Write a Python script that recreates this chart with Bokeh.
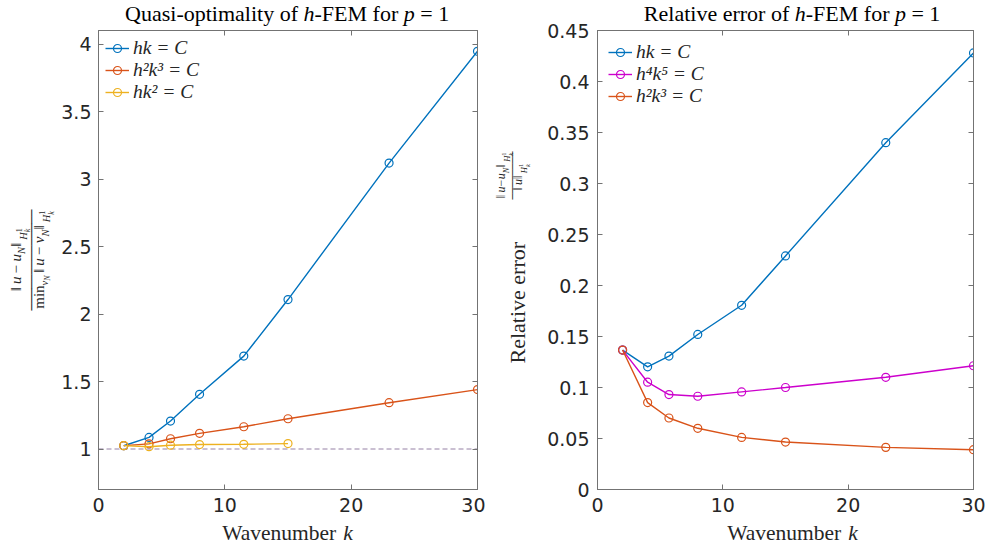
import math
from bokeh.plotting import figure
from bokeh.models import (Range1d, LinearAxis, FixedTicker, CustomJSTickFormatter,
                          Span, Legend, LegendItem, Label)
from bokeh.layouts import row, column
from bokeh.embed import file_html
from bokeh.resources import INLINE

# ---------------- data ----------------
k = [2, 4, 5.7, 8, 11.5, 15, 23, 30]
k_short = [2, 4, 5.7, 8, 11.5, 15]

quasi_hk = [1.024, 1.086, 1.207, 1.405, 1.688, 2.107, 3.118, 3.946]
quasi_h2k3 = [1.025, 1.038, 1.076, 1.116, 1.165, 1.224, 1.343, 1.440]
quasi_hk2 = [1.025, 1.017, 1.028, 1.033, 1.035, 1.040]

rel_hk = [0.1367, 0.1203, 0.1308, 0.1520, 0.1806, 0.2290, 0.3400, 0.4280]
rel_h4k5 = [0.1367, 0.1052, 0.0931, 0.0914, 0.0957, 0.1000, 0.1100, 0.1213]
rel_h2k3 = [0.1367, 0.0852, 0.0701, 0.0600, 0.0511, 0.0465, 0.0413, 0.0390]

x_ticks = [0, 10, 20, 30]
quasi_y_ticks = [1, 1.5, 2, 2.5, 3, 3.5, 4]
rel_y_ticks = [0, 0.05, 0.1, 0.15, 0.2, 0.25, 0.3, 0.35, 0.4, 0.45]

BLUE = "#0072BD"
RED = "#D95319"
YELLOW = "#EDB120"
MAGENTA = "#CC00CC"
AXIS_GRAY = "#737373"
TEXT = "#262626"
SERIF = "Liberation Serif"
BIG = 22
BASE_CORR = 0.34   # rendered baseline sits this many em below the anchor

# ---------------- approximate glyph widths (em/1000) ----------------
_lo = "abcdefghijklmnopqrstuvwxyz"
_up = "ABCDEFGHIJKLMNOPQRSTUVWXYZ"
ROMAN = dict(zip(_lo, [444, 500, 444, 500, 444, 333, 500, 500, 278, 278, 500, 278, 778,
                       500, 500, 500, 500, 333, 389, 278, 500, 500, 722, 500, 500, 444]))
ROMAN.update(zip(_up, [722, 667, 667, 722, 611, 556, 722, 722, 333, 389, 722, 611, 889,
                       722, 722, 556, 722, 667, 556, 611, 722, 722, 944, 722, 722, 611]))
ITALIC = dict(zip(_lo, [500, 500, 444, 500, 444, 278, 500, 500, 278, 278, 444, 278, 722,
                        500, 500, 500, 500, 389, 389, 278, 500, 444, 667, 444, 444, 389]))
ITALIC.update(zip(_up, [611, 611, 667, 722, 611, 611, 722, 722, 333, 444, 667, 556, 833,
                        667, 722, 611, 722, 611, 500, 556, 722, 611, 833, 611, 556, 556]))
for tbl in (ROMAN, ITALIC):
    tbl.update({" ": 250, "-": 333, "=": 600, "\u2212": 600, "\u2016": 480})
    tbl.update({d: 500 for d in "0123456789"})


def text_width(t, size, style):
    tbl = ITALIC if "italic" in style else ROMAN
    return sum(tbl.get(ch, 500) for ch in t) / 1000.0 * size


def rich(p, pieces, x, y, origin, angle=0.0, align="left", color=TEXT, font=SERIF):
    """pieces: (text, size, style, shift, advance); x, y = baseline start in picture
    pixels; origin = (left, bottom) of the strip's frame in picture pixels."""
    widths = [text_width(t, s, st) if adv else 0.0 for (t, s, st, sh, adv) in pieces]
    total = sum(widths)
    cur = {"left": 0.0, "center": -total / 2.0, "right": -total}[align]
    dx, dy = math.cos(angle), math.sin(angle)
    nx, ny = math.sin(angle), -math.cos(angle)
    sx0, sy0 = x - origin[0], origin[1] - y
    for (t, s, st, sh, adv), w in zip(pieces, widths):
        body = t.lstrip(" ")
        lead = text_width(t[:len(t) - len(body)], s, st)
        if body.strip():
            pos = cur + lead
            off = sh - BASE_CORR * s
            p.add_layout(Label(x=sx0 + dx * pos + nx * off, y=sy0 + dy * pos + ny * off,
                               x_units="screen", y_units="screen", text=body,
                               angle=angle, text_font=font, text_font_size=f"{s}px",
                               text_font_style=st, text_color=color, text_align="left",
                               text_baseline="alphabetic"))
        cur += w
    return total


def bar(p, x, y, length, origin, size=12):
    n = max(1, round(length / (0.602 * size)))
    p.add_layout(Label(x=x - origin[0], y=origin[1] - y, x_units="screen",
                       y_units="screen", text="\u2500" * n, angle=math.pi / 2,
                       text_font="DejaVu Sans Mono", text_font_size=f"{size}px",
                       text_color=TEXT, text_align="center", text_baseline="middle"))


def strip(width, height, **borders):
    opts = dict(min_border=0)
    opts.update(borders)
    s = figure(width=width, height=height, x_range=Range1d(0, 1), y_range=Range1d(0, 1),
               output_backend="svg", toolbar_location=None,
               x_axis_location=None, y_axis_location=None, **opts)
    s.outline_line_color = None
    s.grid.visible = False
    return s


def style_axis(ax, ticks, labels=True, standoff=7):
    ax.ticker = FixedTicker(ticks=ticks)
    ax.formatter = CustomJSTickFormatter(code="return String(Number(tick.toFixed(4)));")
    ax.major_tick_in = 5
    ax.major_tick_out = 0
    ax.minor_tick_line_color = None
    ax.axis_line_color = AXIS_GRAY
    ax.major_tick_line_color = AXIS_GRAY
    if labels:
        ax.major_label_text_font = "DejaVu Sans"
        ax.major_label_text_font_size = "19px"
        ax.major_label_text_color = TEXT
        ax.major_label_standoff = standoff
    else:
        ax.major_label_text_font_size = "0px"
        ax.major_label_text_alpha = 0
        ax.major_label_standoff = 0


MAIN_H = 494
FRAME_TOP, FRAME_BOTTOM = 30, 489
TITLE_H = 26
XL_H = 550 - TITLE_H - MAIN_H      # 30


def make_fig(width, border_left, border_right, yr, yticks, ylabels=True):
    p = figure(width=width, height=MAIN_H, x_range=Range1d(0, 30), y_range=yr,
               output_backend="svg", toolbar_location=None,
               min_border_left=border_left, min_border_right=border_right,
               min_border_top=4, min_border_bottom=31)
    p.xgrid.grid_line_color = None
    p.ygrid.grid_line_color = None
    p.outline_line_color = AXIS_GRAY
    style_axis(p.xaxis[0], x_ticks, True, 8)
    style_axis(p.yaxis[0], yticks, ylabels, 7)
    top = LinearAxis()
    style_axis(top, x_ticks, False)
    p.add_layout(top, "above")
    right = LinearAxis()
    style_axis(right, yticks, False)
    p.add_layout(right, "right")
    return p


def series(p, xs, ys, color):
    ln = p.line(xs, ys, line_color=color, line_width=1.4)
    pt = p.scatter(xs, ys, marker="circle", size=8, line_color=color,
                   fill_color=None, line_width=1.2)
    return [ln, pt]


def legend(p, items, margin):
    lg = Legend(items=[LegendItem(label=lab, renderers=r) for lab, r in items],
                location="top_left", label_text_font=SERIF,
                label_text_font_style="italic", label_text_font_size="19.5px",
                label_text_line_height=0.9, label_text_color=TEXT,
                glyph_width=24, glyph_height=20, label_height=20, spacing=-1,
                padding=5, margin=margin, label_standoff=4,
                border_line_color=None, background_fill_alpha=0)
    p.add_layout(lg)


TS = 22
TITLE_BASE = 20
XS = 21.5


def title_pieces(first):
    return [(first, TS, "normal", 0, True), ("h", TS, "italic", 0, True),
            ("-FEM for ", TS, "normal", 0, True), ("p", TS, "italic", 0, True),
            (" = 1", TS, "normal", 0, True)]


xlabel_pieces = [("Wavenumber ", XS, "normal", 0, True), ("k", XS, "italic", 0, True)]

# ================= left panel (x 0..485) =================
tL = strip(485, TITLE_H)
rich(tL, title_pieces("Quasi-optimality of "), 287, TITLE_BASE, (0, TITLE_H),
     align="center", color="#000000")

yL = strip(58, MAIN_H)
oL = (0, FRAME_BOTTOM)          # strip frame is aligned with the plot frame
M, S, SS = 15, 10.5, 8
num_pieces = [("\u2016", M, "normal", 0, True), ("u", M, "italic", 0, True),
              (" ", 12, "normal", 0, True),
              ("\u2212", M, "normal", 0, True), (" ", 12, "normal", 0, True),
              ("u", M, "italic", 0, True),
              ("N", S, "italic", 4.5, True), ("\u2016", M, "normal", 0, True),
              ("H", S, "italic", 6, True), ("1", SS, "normal", 0.5, False),
              ("k", SS, "italic", 9.5, True)]
den_pieces = [("min", M, "normal", 0, True), ("v", S, "italic", 3.5, True),
              ("N", SS, "italic", 5.5, True), (" ", 10, "normal", 0, True),
              ("\u2016", M, "normal", 0, True), ("u", M, "italic", 0, True),
              (" ", 12, "normal", 0, True),
              ("\u2212", M, "normal", 0, True), (" ", 12, "normal", 0, True),
              ("v", M, "italic", 0, True),
              ("N", S, "italic", 4.5, True), ("\u2016", M, "normal", 0, True),
              ("H", S, "italic", 6, True), ("1", SS, "normal", 0.5, False),
              ("k", SS, "italic", 9.5, True)]
wn = rich(yL, num_pieces, 20.5, 259.5, oL, angle=math.pi / 2, align="center")
wd = rich(yL, den_pieces, 44, 259.5, oL, angle=math.pi / 2, align="center")
bar(yL, 31.5, 259.5, max(wn, wd) + 4, oL)

p1 = make_fig(427, 39, 8, Range1d(0.7, 4.1), quasi_y_ticks)
p1.add_layout(Span(location=1, dimension="width", line_color="#9580A5",
                   line_dash="5 3", line_width=1, level="underlay"))
r_hk = series(p1, k, quasi_hk, BLUE)
r_h2k3 = series(p1, k, quasi_h2k3, RED)
r_hk2 = series(p1, k_short, quasi_hk2, YELLOW)
legend(p1, [("hk = C", r_hk), ("h\u00b2k\u00b3 = C", r_h2k3), ("hk\u00b2 = C", r_hk2)], 7)

xL = strip(485, XL_H)
rich(xL, xlabel_pieces, 287, 539.5, (0, 550), align="center")

left_panel = column(tL, row(yL, p1), xL)

# ================= right panel (x 485..989) =================
# y-label strip (485..540), tick-label strip (540..590), plot column (590..989)
yR = strip(55, 550, min_border_top=FRAME_TOP, min_border_bottom=550 - FRAME_BOTTOM)
oR = (485, FRAME_BOTTOM)
rich(yR, [("Relative error", BIG, "normal", 0, True)], 524, 363, oR,
     angle=math.pi / 2, align="left")
m, s, ss = 12, 8.5, 6.5
rnum = [("\u2016", m, "normal", 0, True), ("u", m, "italic", 0, True),
        ("\u2212", m, "normal", 0, True), ("u", m, "italic", 0, True),
        ("N", s, "italic", 3.5, True), ("\u2016", m, "normal", 0, True),
        ("H", s, "italic", 4.5, True), ("1", ss, "normal", 0.5, False),
        ("k", ss, "italic", 7.5, True)]
rden = [("\u2016", m, "normal", 0, True), ("u", m, "italic", 0, True),
        ("\u2016", m, "normal", 0, True), ("H", s, "italic", 4.5, True),
        ("1", ss, "normal", 0.5, False), ("k", ss, "italic", 7.5, True)]
wn2 = rich(yR, rnum, 505, 175, oR, angle=math.pi / 2, align="center")
wd2 = rich(yR, rden, 522, 177, oR, angle=math.pi / 2, align="center")
bar(yR, 511.5, 175, max(wn2, wd2) + 2, oR, size=10)

rel_range = Range1d(0, 0.45)
# tick labels of the right plot's y axis, in their own strip sharing the y range
tk = figure(width=50, height=550, x_range=Range1d(0, 1), y_range=rel_range,
            output_backend="svg", toolbar_location=None, x_axis_location=None,
            min_border_left=49, min_border_right=0, min_border_top=FRAME_TOP,
            min_border_bottom=550 - FRAME_BOTTOM)
tk.outline_line_color = None
tk.grid.visible = False
style_axis(tk.yaxis[0], rel_y_ticks, True, 0)
tk.yaxis[0].axis_line_color = None
tk.yaxis[0].major_tick_line_color = None
tk.yaxis[0].major_tick_in = 0

tR = strip(399, TITLE_H)
rich(tR, title_pieces("Relative error of "), 785, TITLE_BASE, (590, TITLE_H),
     align="center", color="#000000")

p2 = make_fig(399, 7, 16, rel_range, rel_y_ticks, ylabels=False)
q_hk = series(p2, k, rel_hk, BLUE)
q_h4k5 = series(p2, k, rel_h4k5, MAGENTA)
q_h2k3 = series(p2, k, rel_h2k3, RED)
legend(p2, [("hk = C", q_hk), ("h\u2074k\u2075 = C", q_h4k5), ("h\u00b2k\u00b3 = C", q_h2k3)], 11)

xR = strip(399, XL_H)
rich(xR, xlabel_pieces, 785, 539.5, (590, 550), align="center")

right_panel = row(yR, tk, column(tR, p2, xR))

layout = row(left_panel, right_panel)
open("out.html", "w").write(file_html(layout, INLINE))
